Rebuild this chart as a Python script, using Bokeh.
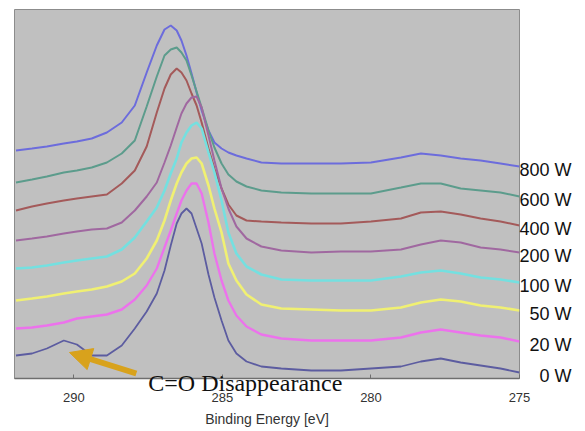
from bokeh.plotting import figure
from bokeh.models import Range1d, Arrow, NormalHead, FixedTicker, LinearAxis
from bokeh.embed import file_html
from bokeh.resources import INLINE

# Binding energy sample points (eV)
binding_energy = [291.95, 291.41, 290.91, 290.34, 289.90, 289.40, 288.89, 288.39, 287.95,
                  287.55, 287.21, 286.95, 286.74, 286.54, 286.38, 286.21, 286.04, 285.87,
                  285.70, 285.47, 285.27, 285.03, 284.80, 284.53, 284.19, 283.69, 283.02,
                  282.01, 281.01, 280.00, 278.99, 278.32, 277.65, 276.98, 276.31, 275.64, 275.00]

# Stacked C1s intensities (a.u.)
w800 = [228, 230, 232, 235, 237, 240, 246, 256, 273, 306, 333, 349, 353, 348, 338, 323, 305, 286,
        268, 248, 236, 230, 226, 223, 220, 216, 215, 215, 215, 216, 221, 225, 223, 220, 218, 215, 212]
w600 = [196, 199, 202, 206, 208, 211, 216, 225, 238, 272, 302, 323, 329, 331, 326, 318, 303, 287,
        271, 248, 231, 215, 204, 197, 192, 188, 186, 185, 185, 185, 191, 195, 195, 190, 188, 186, 182]
w400 = [168, 172, 175, 178, 180, 182, 184, 195, 208, 232, 266, 290, 304, 310, 306, 298, 285, 273,
        256, 230, 210, 190, 174, 163, 158, 157, 156, 155, 155, 157, 160, 166, 167, 164, 160, 157, 153]
w200 = [138, 140, 142, 145, 147, 149, 150, 156, 168, 182, 196, 216, 233, 251, 265, 275, 281, 282,
        271, 243, 218, 190, 170, 152, 140, 132, 128, 126, 127, 127, 129, 134, 138, 136, 131, 129, 126]
w100 = [110, 111, 113, 116, 118, 120, 122, 129, 141, 157, 171, 188, 205, 220, 236, 246, 253, 256,
        250, 226, 206, 178, 146, 125, 112, 104, 99, 98, 98, 98, 102, 106, 108, 105, 101, 99, 96]
w50 = [78, 80, 82, 85, 87, 89, 92, 97, 105, 120, 138, 158, 178, 195, 206, 215, 220, 221,
       215, 193, 170, 146, 115, 98, 84, 74, 70, 69, 68, 68, 71, 76, 79, 77, 73, 71, 68]
w20 = [50, 51, 53, 56, 60, 62, 64, 69, 79, 93, 110, 131, 148, 165, 178, 188, 195, 195,
       185, 156, 125, 98, 78, 63, 52, 44, 40, 38, 38, 38, 41, 46, 49, 46, 43, 41, 37]
w0 = [23, 25, 30, 38, 34, 23, 23, 33, 50, 67, 85, 108, 133, 155, 165, 170, 165, 150,
      135, 104, 81, 58, 38, 25, 17, 12, 10, 8, 8, 10, 12, 17, 20, 16, 13, 10, 6]

series_labels = ["800 W", "600 W", "400 W", "200 W", "100 W", "50 W", "20 W", "0 W"]
series_values = [w800, w600, w400, w200, w100, w50, w20, w0]
series_colors = ["#6c6cdc", "#5c9c8c", "#a45a5a", "#a068a0", "#74e0e0", "#f0f072", "#ec72ec", "#5c5ca0"]
series_widths = [2, 2, 2, 2, 2.6, 2.6, 2.4, 1.8]

x_ticks = [290, 285, 280, 275]
annotation_text = "C=O Disappearance"
annotation_x = 284.23
arrow_tail = (287.9, 5)
arrow_head = (290.15, 26)
LABEL_NUDGE = -3

p = figure(width=580, height=430, output_backend="svg", toolbar_location=None,
           x_range=Range1d(292.0, 275.0), y_range=Range1d(0, 369),
           x_axis_location=None, y_axis_location=None,
           min_border_left=14, min_border_right=61, min_border_top=9, min_border_bottom=52)
p.background_fill_color = "#c0c0c0"
p.border_fill_color = "white"
p.outline_line_color = "#8c8c8c"
p.outline_line_width = 1
p.grid.visible = False

# axis nearest the frame: bottom line, inner tick marks and the annotation text
co_axis = LinearAxis(ticker=FixedTicker(ticks=[annotation_x], minor_ticks=x_ticks),
                     major_label_overrides={annotation_x: annotation_text})
co_axis.axis_line_color = "#6e6e6e"
co_axis.axis_line_width = 1.5
co_axis.major_tick_line_color = None
co_axis.major_tick_in = 0
co_axis.major_tick_out = 0
co_axis.minor_tick_in = 4
co_axis.minor_tick_out = 0
co_axis.minor_tick_line_color = "#6e6e6e"
co_axis.major_label_standoff = -9
co_axis.major_label_text_font = "Liberation Serif"
co_axis.major_label_text_font_size = "24px"
co_axis.major_label_text_color = "#111111"
p.add_layout(co_axis, "below")

# main binding-energy axis
xa = LinearAxis(ticker=FixedTicker(ticks=x_ticks), axis_label="Binding Energy [eV]")
xa.axis_line_color = None
xa.major_tick_line_color = None
xa.major_tick_in = 0
xa.major_tick_out = 0
xa.minor_tick_line_color = None
xa.major_label_text_font = "Liberation Sans"
xa.major_label_text_font_size = "13px"
xa.major_label_text_color = "#333333"
xa.major_label_standoff = -6
xa.axis_label_text_font = "Liberation Sans"
xa.axis_label_text_font_size = "14px"
xa.axis_label_text_font_style = "normal"
xa.axis_label_text_color = "#333333"
xa.axis_label_standoff = 6
p.add_layout(xa, "below")

# right-hand series labels placed at each curve's end level
label_ticks = [vals[-1] + LABEL_NUDGE for vals in series_values]
padded = [lab.rjust(5, "\u2007") for lab in series_labels]
ra = LinearAxis(ticker=FixedTicker(ticks=label_ticks),
                major_label_overrides={t: lab for t, lab in zip(label_ticks, padded)})
ra.axis_line_color = None
ra.major_tick_line_color = None
ra.major_tick_in = 0
ra.major_tick_out = 0
ra.minor_tick_line_color = None
ra.major_label_standoff = 0
ra.major_label_text_font = "Liberation Sans"
ra.major_label_text_font_size = "18px"
ra.major_label_text_color = "#111111"
p.add_layout(ra, "right")

for vals, col, lw in zip(series_values, series_colors, series_widths):
    p.line(binding_energy, vals, line_color=col, line_width=lw)

p.add_layout(Arrow(x_start=arrow_tail[0], y_start=arrow_tail[1],
                   x_end=arrow_head[0], y_end=arrow_head[1],
                   line_color="#d8a21c", line_width=6,
                   end=NormalHead(size=22, fill_color="#d8a21c", line_color="#d8a21c")))

open("out.html", "w").write(file_html(p, INLINE))
